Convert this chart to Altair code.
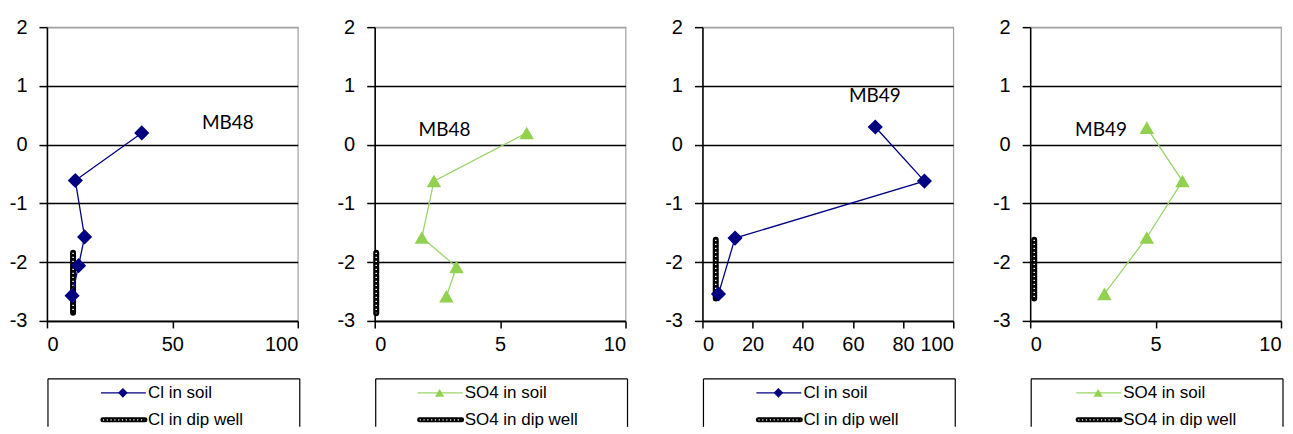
import altair as alt
import pandas as pd

# ---------------- data ----------------
y_ticks = [-3, -2, -1, 0, 1, 2]

# MB48 chloride
cl48_x = [37.8, 11.3, 15.0, 12.6, 10.0]
cl48_y = [0.20, -0.61, -1.57, -2.06, -2.57]
cl48_dip_x = [10.4, 10.4]
cl48_dip_y = [-1.84, -2.86]

# MB48 sulphate
so48_x = [6.06, 2.36, 1.88, 3.26, 2.86]
so48_y = [0.20, -0.62, -1.58, -2.08, -2.58]
so48_dip_x = [0.06, 0.06]
so48_dip_y = [-1.84, -2.87]

# MB49 chloride
cl49_x = [68.9, 88.5, 13.0, 6.4]
cl49_y = [0.30, -0.62, -1.59, -2.54]
cl49_dip_x = [5.3, 5.3]
cl49_dip_y = [-1.62, -2.62]

# MB49 sulphate
so49_x = [4.65, 6.07, 4.65, 2.96]
so49_y = [0.29, -0.62, -1.58, -2.54]
so49_dip_x = [0.16, 0.16]
so49_dip_y = [-1.62, -2.62]

well_labels = ["MB48", "MB48", "MB49", "MB49"]
label_x = [61.8, 1.75, 58.4, 1.79]
label_y = [0.37, 0.25, 0.82, 0.25]

legend_soil = ["Cl in soil", "SO4 in soil", "Cl in soil", "SO4 in soil"]
legend_dip = ["Cl in dip well", "SO4 in dip well", "Cl in dip well", "SO4 in dip well"]

x_max = [100, 10, 100, 10]
x_ticks = [[0, 50, 100], [0, 5, 10], [0, 20, 40, 60, 80, 100], [0, 5, 10]]

# ---------------- styling ----------------
W, H = 251, 294
NAVY = "#000080"
GREEN_MARK = "#92D050"
GREEN_LINE = "#9BD46A"
LEG_OFFSET = [54, 43, 54, 46]  # legend symbol start relative to plot left


def panel(k, sx, sy, dx, dy, color_line, color_mark, shape, msize):
    soil = pd.DataFrame({"x": sx, "y": sy, "i": list(range(len(sx)))})
    dip = pd.DataFrame({"x": dx, "y": dy, "i": list(range(len(dx)))})
    lab = pd.DataFrame({"x": [label_x[k]], "y": [label_y[k]], "t": [well_labels[k]]})

    xs = alt.Scale(domain=[0, x_max[k]], nice=False, zero=False)
    ys = alt.Scale(domain=[-3, 2], nice=False, zero=False)
    xax = alt.Axis(values=x_ticks[k], grid=False, title=None,
                   labelExpr="datum.value + ''")
    yax = alt.Axis(values=y_ticks, grid=True, title=None,
                   labelExpr="datum.value + ''",
                   gridColor={"condition": {"test": "datum.value === 2", "value": "#a0a0a0"},
                              "value": "#000000"})
    X = alt.X("x:Q", scale=xs, axis=xax)
    Y = alt.Y("y:Q", scale=ys, axis=yax)

    dip_black = alt.Chart(dip).mark_line(color="#000000", strokeWidth=6, strokeCap="round").encode(
        x=X, y=Y, order="i:O")
    dip_white = alt.Chart(dip).mark_line(color="#ffffff", strokeWidth=1.5, strokeDash=[1.2, 2.8]).encode(
        x=X, y=Y, order="i:O")
    line = alt.Chart(soil).mark_line(color=color_line, strokeWidth=1.3).encode(
        x=X, y=Y, order="i:O")
    pts = alt.Chart(soil).mark_point(shape=shape, size=msize, filled=True, opacity=1,
                                     color=color_mark).encode(x=X, y=Y)
    txt = alt.Chart(lab).mark_text(font="Lato", fontSize=19, align="left", baseline="middle",
                                   color="#000000").encode(x=X, y=Y, text="t:N")

    # legend (drawn box with two entries)
    one = pd.DataFrame({"a": [0]})
    o = LEG_OFFSET[k]
    r1, r2 = H + 72, H + 99
    box_top = alt.Chart(one).mark_rule(color="#000000", strokeWidth=1.2).encode(
        x=alt.value(1), x2=alt.value(253), y=alt.value(H + 58))
    box_l = alt.Chart(one).mark_rule(color="#000000", strokeWidth=1.2).encode(
        x=alt.value(1), y=alt.value(H + 58), y2=alt.value(H + 106))
    box_r = alt.Chart(one).mark_rule(color="#000000", strokeWidth=1.2).encode(
        x=alt.value(253), y=alt.value(H + 58), y2=alt.value(H + 106))
    leg_line = alt.Chart(one).mark_rule(color=color_line, strokeWidth=1.3).encode(
        x=alt.value(o), x2=alt.value(o + 45), y=alt.value(r1))
    leg_pt = alt.Chart(one).mark_point(shape=shape, size=msize * 0.4, filled=True, opacity=1,
                                       color=color_mark).encode(x=alt.value(o + 22), y=alt.value(r1))
    leg_dip_b = alt.Chart(one).mark_rule(color="#000000", strokeWidth=5, strokeCap="round").encode(
        x=alt.value(o + 2), x2=alt.value(o + 44), y=alt.value(r2))
    leg_dip_w = alt.Chart(one).mark_rule(color="#ffffff", strokeWidth=1.4, strokeDash=[1.2, 2.6]).encode(
        x=alt.value(o + 2), x2=alt.value(o + 44), y=alt.value(r2))
    leg_t1 = alt.Chart(one).mark_text(font="Liberation Sans", fontSize=17, align="left",
                                      baseline="middle", color="#000000").encode(
        x=alt.value(o + 47), y=alt.value(r1), text=alt.value(legend_soil[k]))
    leg_t2 = alt.Chart(one).mark_text(font="Liberation Sans", fontSize=17, align="left",
                                      baseline="middle", color="#000000").encode(
        x=alt.value(o + 47), y=alt.value(r2), text=alt.value(legend_dip[k]))

    return alt.layer(dip_black, dip_white, line, pts, txt,
                     box_top, box_l, box_r, leg_line, leg_pt, leg_dip_b, leg_dip_w,
                     leg_t1, leg_t2).properties(width=W, height=H)


p1 = panel(0, cl48_x, cl48_y, cl48_dip_x, cl48_dip_y, NAVY, NAVY, "diamond", 230)
p2 = panel(1, so48_x, so48_y, so48_dip_x, so48_dip_y, GREEN_LINE, GREEN_MARK, "triangle-up", 210)
p3 = panel(2, cl49_x, cl49_y, cl49_dip_x, cl49_dip_y, NAVY, NAVY, "diamond", 230)
p4 = panel(3, so49_x, so49_y, so49_dip_x, so49_dip_y, GREEN_LINE, GREEN_MARK, "triangle-up", 210)

chart = alt.hconcat(p1, p2, p3, p4, spacing=77, bounds="flush").properties(
    padding={"left": 0, "top": 8, "right": 0, "bottom": 0},
    background="#ffffff",
).configure_view(
    stroke="#a0a0a0", strokeWidth=1.2
).configure_axis(
    domainColor="#000000", domainWidth=1.5,
    tickColor="#000000", tickWidth=1.5, tickSize=8,
    gridWidth=1.5,
    labelFont="Liberation Sans", labelFontSize=20, labelColor="#000000",
    labelPadding=12,
).configure_axisX(
    tickSize=7, labelPadding=7
)

chart.save("out.html", embed_options={"renderer": "svg", "actions": False})
